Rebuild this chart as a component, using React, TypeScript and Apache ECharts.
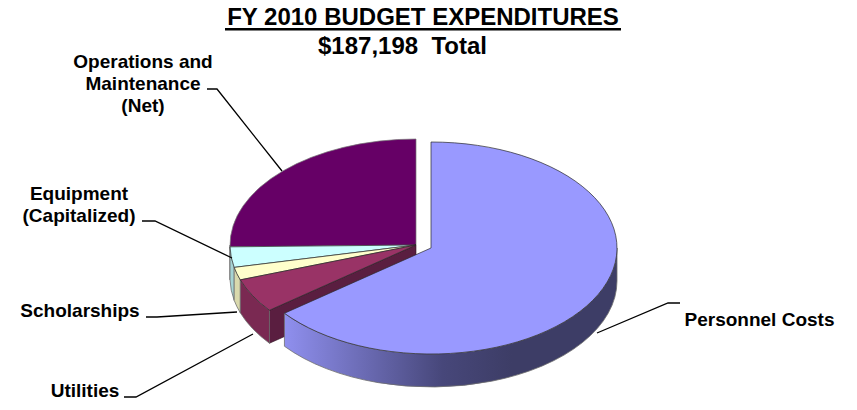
import React, { useEffect, useRef } from "react";
import * as echarts from "echarts";

const titleText = "FY 2010 BUDGET EXPENDITURES";
const totalText = "$187,198  Total";
const categories = ["Personnel Costs", "Utilities", "Scholarships", "Equipment (Capitalized)", "Operations and Maintenance (Net)"];
const values = [120640, 9776, 3640, 5823, 47319];
const labelTexts = ["Personnel Costs", "Utilities", "Scholarships", "Equipment\n(Capitalized)", "Operations and\nMaintenance\n(Net)"];

const topColors = ["#9999ff", "#993366", "#ffffcc", "#ccffff", "#660066"];
const sideColors = ["", "#7a2952", "#d9d9ad", "#a6d4d4", "#520052"];
const faceColors = ["", "#5a1e40", "", "", ""];
const FONT = '"Liberation Sans", Arial, sans-serif';
const CX = 416, CY = 245, RX = 186, RY = 106, DEPTH = 33;
const explode: number[][] = [[15, 3], [0, 0], [0, 0], [0, 0], [0, 0]];
const labelPos: number[][] = [[759.5, 319], [85, 390], [80, 310], [79, 204], [143, 83]];
const leaders: number[][][] = [
  [[597, 333], [668, 303], [680, 303]],
  [[253, 334], [136, 397], [124, 397]],
  [[237, 312], [157, 317], [146, 317]],
  [[232, 258], [155, 221], [142, 221]],
  [[282, 171], [217, 89], [207, 89]],
];

const total = values.reduce((a, b) => a + b, 0);
const starts: number[] = [];
values.reduce((acc, v, i) => {
  starts[i] = acc;
  return acc + (v / total) * 360;
}, 0);

function renderItem(_params: any, api: any) {
  const i = api.value(0) as number;
  const a0 = starts[i];
  const a1 = a0 + (api.value(1) / total) * 360;
  const [ox, oy] = explode[i];
  const cx = CX + ox, cy = CY + oy;
  const pt = (deg: number, d = 0) => {
    const r = (deg * Math.PI) / 180;
    return [cx + RX * Math.sin(r), cy - RY * Math.cos(r) + d].map((n) => +n.toFixed(2));
  };
  const children: any[] = [];
  const s = Math.max(a0, 90), e = Math.min(a1, 270);
  const prev = (i + values.length - 1) % values.length;
  if (faceColors[i] && (explode[prev][0] !== ox || explode[prev][1] !== oy)) {
    const p = pt(a0);
    const q = pt(a0, DEPTH);
    children.push({
      type: "path",
      shape: { pathData: `M${cx} ${cy}L${p[0]} ${p[1]}L${q[0]} ${q[1]}L${cx} ${cy + DEPTH}Z` },
      style: { fill: faceColors[i], stroke: "#2c1020", lineWidth: 0.6 },
    });
  }
  if (e > s) {
    const p = pt(s), q = pt(e), q2 = pt(e, DEPTH), p2 = pt(s, DEPTH);
    const big = e - s > 180 ? 1 : 0;
    const fill =
      i === 0
        ? new echarts.graphic.LinearGradient(
            285, 0, 600, 0,
            [
              { offset: 0, color: "#8f8fee" },
              { offset: 0.5, color: "#47477a" },
              { offset: 0.72, color: "#3d3d66" },
              { offset: 1, color: "#3d3d66" },
            ],
            true
          )
        : sideColors[i];
    children.push({
      type: "path",
      shape: {
        pathData: `M${p[0]} ${p[1]}A${RX} ${RY} 0 ${big} 1 ${q[0]} ${q[1]}L${q2[0]} ${q2[1]}A${RX} ${RY} 0 ${big} 0 ${p2[0]} ${p2[1]}Z`,
      },
      style: { fill, stroke: "#6e6e6e", lineWidth: 0.8 },
    });
  }
  const p = pt(a0), q = pt(a1);
  const big = a1 - a0 > 180 ? 1 : 0;
  children.push({
    type: "path",
    shape: { pathData: `M${cx} ${cy}L${p[0]} ${p[1]}A${RX} ${RY} 0 ${big} 1 ${q[0]} ${q[1]}Z` },
    style: { fill: topColors[i], stroke: i === 4 ? "#777777" : "#2a2a2a", lineWidth: 0.7 },
  });
  children.push({
    type: "polyline",
    shape: { points: leaders[i] },
    style: { fill: "none", stroke: "#000", lineWidth: 1.3 },
  });
  children.push({
    type: "text",
    x: labelPos[i][0],
    y: labelPos[i][1],
    style: {
      text: labelTexts[i],
      fontFamily: FONT,
      fontWeight: "bold",
      fontSize: 19,
      lineHeight: 22,
      fill: "#000",
      align: "center",
      verticalAlign: "middle",
    },
  });
  return { type: "group", children };
}

export default function App() {
  const ref = useRef<HTMLDivElement>(null);
  useEffect(() => {
    const chart = echarts.init(ref.current!, null, { renderer: "svg" });
    const drawOrder = [4, 3, 2, 1, 0];
    chart.setOption({
      animation: false,
      backgroundColor: "#ffffff",
      title: [
        {
          text: titleText,
          left: 423,
          top: 4,
          padding: 0,
          textAlign: "center",
          textStyle: { fontFamily: FONT, fontWeight: "bold", fontSize: 24, color: "#000" },
        },
        {
          text: totalText,
          left: 402.5,
          top: 33,
          padding: 0,
          textAlign: "center",
          textStyle: { fontFamily: FONT, fontWeight: "bold", fontSize: 24, color: "#000" },
        },
      ],
      graphic: [
        { type: "rect", shape: { x: 225, y: 28, width: 396, height: 2.4 }, style: { fill: "#000" } },
      ],
      series: [
        {
          type: "custom",
          name: "FY 2010 Budget Expenditures",
          coordinateSystem: "none",
          renderItem,
          silent: true,
          clip: false,
          dimensions: ["index", "value"],
          data: drawOrder.map((i) => ({ name: categories[i], value: [i, values[i]] })),
        },
      ],
    });
    return () => chart.dispose();
  }, []);
  return <div ref={ref} style={{ position: "absolute", left: 0, top: 0, width: 857, height: 410 }} />;
}
